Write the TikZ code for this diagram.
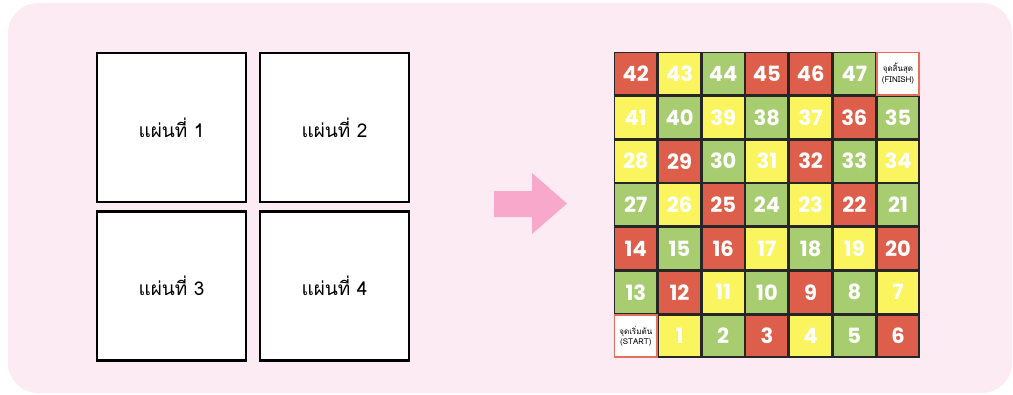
\documentclass[tikz,border=0pt]{standalone}
\usepackage{fontspec}
\newfontfamily\thaifont[Script=Thai]{Loma}
\newfontfamily\numfont{Poppins}
\definecolor{bgpink}{RGB}{253,235,243}
\definecolor{arrowpink}{RGB}{247,168,203}
\definecolor{cellred}{RGB}{222,94,76}
\definecolor{cellyel}{RGB}{250,245,95}
\definecolor{cellgrn}{RGB}{168,204,112}
\definecolor{endred}{RGB}{230,110,95}
\tikzset{
  sheet/.style={draw=black, line width=2.2pt, fill=white, minimum size=149pt, inner sep=0pt,
    font=\thaifont\fontsize{19}{22}\selectfont},
  cell/.style={draw=black!85, line width=1.4pt, minimum size=42.3pt, inner sep=0pt,
    text=white, font=\numfont\bfseries\fontsize{21}{24}\selectfont},
  endcell/.style={cell, draw=endred, fill=white, text=black, align=center,
    font=\thaifont\fontsize{8}{10.5}\selectfont}
}
\begin{document}
\begin{tikzpicture}[x=1pt,y=-1pt]
\useasboundingbox (0,0) rectangle (1013,394);
\fill[bgpink, rounded corners=30pt] (8,3) rectangle (1012,393);
\node[sheet] (sheet1) at (171.5,127.5) {แผ่นที่ 1};
\node[sheet] (sheet2) at (334.5,127.5) {แผ่นที่ 2};
\node[sheet] (sheet3) at (171.5,286) {แผ่นที่ 3};
\node[sheet] (sheet4) at (334.5,286) {แผ่นที่ 4};
\fill[arrowpink] (494,191) -- (532,191) -- (532,173) -- (567,203.5) -- (532,234)
  -- (532,217) -- (494,217) -- cycle;
\foreach \n/\c/\r/\k in {
  42/cellred/0/0, 43/cellyel/0/1, 44/cellgrn/0/2, 45/cellred/0/3, 46/cellred/0/4, 47/cellgrn/0/5,
  41/cellyel/1/0, 40/cellgrn/1/1, 39/cellyel/1/2, 38/cellgrn/1/3, 37/cellyel/1/4, 36/cellred/1/5, 35/cellgrn/1/6,
  28/cellyel/2/0, 29/cellred/2/1, 30/cellgrn/2/2, 31/cellyel/2/3, 32/cellred/2/4, 33/cellgrn/2/5, 34/cellyel/2/6,
  27/cellgrn/3/0, 26/cellyel/3/1, 25/cellred/3/2, 24/cellgrn/3/3, 23/cellyel/3/4, 22/cellred/3/5, 21/cellgrn/3/6,
  14/cellred/4/0, 15/cellgrn/4/1, 16/cellred/4/2, 17/cellyel/4/3, 18/cellgrn/4/4, 19/cellyel/4/5, 20/cellred/4/6,
  13/cellgrn/5/0, 12/cellred/5/1, 11/cellyel/5/2, 10/cellgrn/5/3, 9/cellred/5/4, 8/cellgrn/5/5, 7/cellyel/5/6,
  1/cellyel/6/1, 2/cellgrn/6/2, 3/cellred/6/3, 4/cellyel/6/4, 5/cellgrn/6/5, 6/cellred/6/6}
  \node[cell, fill=\c] (cell\n) at (635.8+43.7*\k,73.8+43.7*\r) {\n};
\node[endcell] (finish) at (635.8+43.7*6,73.8) {จุดสิ้นสุด\\(FINISH)};
\node[endcell] (start) at (635.8,73.8+43.7*6) {จุดเริ่มต้น\\(START)};
\end{tikzpicture}
\end{document}
